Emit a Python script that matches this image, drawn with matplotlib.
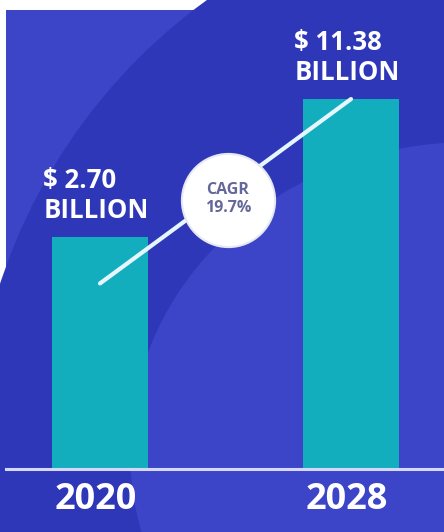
import matplotlib
matplotlib.use("Agg")
import matplotlib.pyplot as plt
from matplotlib.patches import Circle, Ellipse, Rectangle

# Market size data
years = ["2020", "2028"]
values = [2.70, 11.38]          # USD billion
cagr_label = "CAGR\n19.7%"

# Styling
BG_LIGHT = "#3C45C8"
BG_DARK = "#2E37B8"
BAR_COLOR = "#13AEBE"
LINE_COLOR = "#E6F6FF"
AXIS_COLOR = "#D4D8F6"
TEXT_FONT = "Open Sans"

W, H = 444, 532
fig = plt.figure(figsize=(W / 100, H / 100), dpi=100)
fig.patch.set_facecolor("white")

# Decorative background in pixel coordinates
bg = fig.add_axes([0, 0, 1, 1])
bg.set_xlim(0, W)
bg.set_ylim(H, 0)
bg.axis("off")
panel = Rectangle((6, 10), W - 6, H - 11, facecolor=BG_LIGHT, edgecolor="none")
bg.add_patch(panel)
dark = Circle((540, 460), 568, facecolor=BG_DARK, edgecolor="none")
dark.set_clip_path(panel)
bg.add_patch(dark)
light = Ellipse((470, 452), 680, 620, facecolor=BG_LIGHT, edgecolor="none")
light.set_clip_path(panel)
bg.add_patch(light)

# Bar axes: baseline at y=469 px, top at y=10 px
base = -11.89
top = 16.98
ax = fig.add_axes([6 / W, (H - 469) / H, (W - 6) / W, (469 - 10) / H])
ax.set_xlim(-0.3745, 1.3705)
ax.set_ylim(base, top)
ax.axis("off")
ax.patch.set_alpha(0)

xs = list(range(len(years)))
bar_w = 0.382
heights = [v - base for v in values]
ax.bar(xs, heights, bottom=base, width=bar_w, color=BAR_COLOR, zorder=2)

ax.axhline(base, color=AXIS_COLOR, lw=2.2, clip_on=False, zorder=3)

# Value labels above bars
for x, v in zip(xs, values):
    ax.text(x - bar_w / 2 - 0.035, v + 0.8, f"$ {v:.2f}\nBILLION",
            ha="left", va="bottom", color="white", fontsize=18.5,
            fontweight="bold", family=TEXT_FONT, linespacing=1.15, zorder=5)

# Year labels
for x, y in zip(xs, years):
    ax.text(x - bar_w / 2 + 0.01, base - 0.8, y, ha="left", va="top",
            color="white", fontsize=26, fontweight="bold", family=TEXT_FONT,
            zorder=5)

# Growth line from the first bar to the top of the second
y_start = base + 0.8 * (values[0] - base)
ax.plot([0, 1], [y_start, values[1]], color=LINE_COLOR, lw=3,
        solid_capstyle="round", zorder=4)

# CAGR badge
bx, by = 0.51, 5.0
ax.scatter([bx], [by], s=93 ** 2 * 0.52, color="white", edgecolor="#E8E8F4",
           linewidths=1.5, zorder=6)
ax.text(bx, by + 0.1, cagr_label, ha="center", va="center",
        color="#64679A", fontsize=11.5, fontweight="bold", family=TEXT_FONT,
        linespacing=1.2, zorder=7)

fig.savefig("out.png", dpi=100, facecolor=fig.get_facecolor())
